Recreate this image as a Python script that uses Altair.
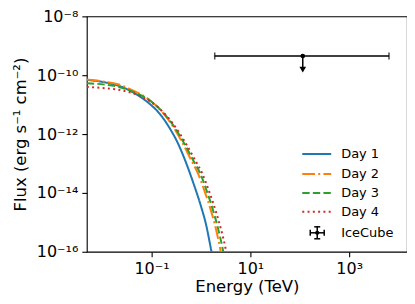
import altair as alt
import pandas as pd

# ---------------- data (log10 values off the log axes) ----------------
days = ["Day 1", "Day 2", "Day 3", "Day 4"]
colors = ["#1f77b4", "#ff7f0e", "#2ca02c", "#d62728"]
dashes = [[1, 0], [12.8, 3.2, 2, 3.2], [7.4, 3.2], [2, 3.3]]

log_energy_day1 = [-2.31, -1.95, -1.68, -1.44, -1.24, -1.04, -0.84, -0.64, -0.47, -0.30, -0.15, 0.0, 0.10, 0.206, 0.25]
log_flux_day1 = [-10.16, -10.24, -10.35, -10.52, -10.72, -10.97, -11.30, -11.78, -12.30, -12.98, -13.68, -14.45, -15.05, -15.93, -16.3]

log_energy_day2 = [-2.31, -1.95, -1.68, -1.44, -1.24, -1.04, -0.77, -0.57, -0.37, -0.20, -0.065, 0.07, 0.206, 0.30, 0.39, 0.43]
log_flux_day2 = [-10.15, -10.22, -10.31, -10.47, -10.63, -10.84, -11.28, -11.73, -12.31, -12.88, -13.32, -13.92, -14.62, -15.20, -15.90, -16.25]

log_energy_day3 = [-2.31, -1.95, -1.68, -1.44, -1.24, -1.04, -0.76, -0.55, -0.34, -0.16, -0.02, 0.115, 0.25, 0.345, 0.44, 0.48]
log_flux_day3 = [-10.27, -10.32, -10.39, -10.52, -10.66, -10.85, -11.28, -11.73, -12.31, -12.88, -13.32, -13.92, -14.62, -15.20, -15.90, -16.25]

log_energy_day4 = [-2.31, -1.95, -1.68, -1.44, -1.24, -1.04, -0.75, -0.53, -0.31, -0.12, 0.02, 0.16, 0.30, 0.40, 0.50, 0.54]
log_flux_day4 = [-10.40, -10.44, -10.49, -10.58, -10.70, -10.88, -11.28, -11.73, -12.31, -12.88, -13.32, -13.92, -14.62, -15.20, -15.90, -16.25]

icecube_energy = [115.0]
icecube_energy_lo = [1.9]
icecube_energy_hi = [6400.0]
icecube_flux = [4.5e-10]
icecube_arrow_end = [1.9e-10]
icecube_arrow_head = [1.55e-10]

x_ticks = [0.1, 10, 1000]
x_tick_labels = ["10\u207b\u00b9", "10\u00b9", "10\u00b3"]
y_ticks = [1e-16, 1e-14, 1e-12, 1e-10, 1e-8]
y_tick_labels = ["10\u207b\u00b9\u2076", "10\u207b\u00b9\u2074", "10\u207b\u00b9\u00b2", "10\u207b\u00b9\u2070", "10\u207b\u2078"]

x_domain = [0.0049, 14800]
y_domain = [1e-16, 1e-8]

# ---------------- build tables ----------------
rows = []
for d, es, fs in zip(days, [log_energy_day1, log_energy_day2, log_energy_day3, log_energy_day4],
                     [log_flux_day1, log_flux_day2, log_flux_day3, log_flux_day4]):
    for e, f in zip(es, fs):
        rows.append({"energy": 10.0 ** e, "flux": 10.0 ** f, "day": d})
curves = pd.DataFrame(rows)

ice = pd.DataFrame({
    "energy": icecube_energy, "lo": icecube_energy_lo, "hi": icecube_energy_hi,
    "flux": icecube_flux, "arrow_end": icecube_arrow_end, "arrow_head": icecube_arrow_head,
})
caps = pd.DataFrame({"energy": icecube_energy_lo + icecube_energy_hi,
                     "flux": icecube_flux * 2})


def label_expr(vals, labels):
    import math
    expr = "''"
    for v, lab in zip(vals, labels):
        k = math.log10(v)
        expr = f"abs(log(datum.value)/LN10 - ({k})) < 0.01 ? '{lab}' : ({expr})"
    return expr


FONT = "DejaVu Sans"

xs = alt.Scale(type="log", domain=x_domain, nice=False)
ys = alt.Scale(type="log", domain=y_domain, nice=False)

x_axis = alt.Axis(values=x_ticks, labelExpr=label_expr(x_ticks, x_tick_labels),
                  title="Energy (TeV)", grid=False, domain=False, titlePadding=2)
y_axis = alt.Axis(values=y_ticks, labelExpr=label_expr(y_ticks, y_tick_labels),
                  title="Flux (erg s\u207b\u00b9 cm\u207b\u00b2)", grid=False, domain=False,
                  titlePadding=8)

lines = alt.Chart(curves).mark_line(clip=True, strokeWidth=2, interpolate="monotone").encode(
    x=alt.X("energy:Q", scale=xs, axis=x_axis),
    y=alt.Y("flux:Q", scale=ys, axis=y_axis),
    color=alt.Color("day:N", scale=alt.Scale(domain=days, range=colors), legend=None),
    strokeDash=alt.StrokeDash("day:N", scale=alt.Scale(domain=days, range=dashes), legend=None),
)

ebar = alt.Chart(ice).mark_rule(color="black", strokeWidth=1.5).encode(
    x=alt.X("lo:Q", scale=xs), x2="hi:Q", y=alt.Y("flux:Q", scale=ys))
cap = alt.Chart(caps).mark_tick(color="black", orient="vertical", thickness=1.5, size=7).encode(
    x=alt.X("energy:Q", scale=xs), y=alt.Y("flux:Q", scale=ys))
shaft = alt.Chart(ice).mark_rule(color="black", strokeWidth=1.5).encode(
    x=alt.X("energy:Q", scale=xs), y=alt.Y("flux:Q", scale=ys), y2="arrow_end:Q")
head = alt.Chart(ice).mark_point(shape="triangle-down", filled=True, color="black",
                                 size=45, opacity=1).encode(
    x=alt.X("energy:Q", scale=xs), y=alt.Y("arrow_head:Q", scale=ys))
dot = alt.Chart(ice).mark_circle(color="black", size=22, opacity=1).encode(
    x=alt.X("energy:Q", scale=xs), y=alt.Y("flux:Q", scale=ys))

# ---------------- manual legend ----------------
leg_layers = []
row_y = [138, 158, 177, 196]
for d, c, dash, yy in zip(days, colors, dashes, row_y):
    one = pd.DataFrame({"label": [d]})
    leg_layers.append(alt.Chart(one).mark_rule(color=c, strokeWidth=2, strokeDash=dash).encode(
        x=alt.value(216), x2=alt.value(245), y=alt.value(yy)))
    leg_layers.append(alt.Chart(one).mark_text(align="left", baseline="middle", font=FONT,
                                               fontSize=13, color="black").encode(
        x=alt.value(255), y=alt.value(yy), text="label:N"))
ice_y = 217
one = pd.DataFrame({"label": ["IceCube"]})
leg_layers.append(alt.Chart(one).mark_rule(color="black", strokeWidth=1.5).encode(
    x=alt.value(224), x2=alt.value(238), y=alt.value(ice_y)))
leg_layers.append(alt.Chart(one).mark_rule(color="black", strokeWidth=1.5).encode(
    x=alt.value(231), y=alt.value(ice_y - 6), y2=alt.value(ice_y + 6)))
for cx in (224, 238):
    leg_layers.append(alt.Chart(one).mark_rule(color="black", strokeWidth=1.5).encode(
        x=alt.value(cx), y=alt.value(ice_y - 3), y2=alt.value(ice_y + 3)))
for cy in (ice_y - 6, ice_y + 6):
    leg_layers.append(alt.Chart(one).mark_rule(color="black", strokeWidth=1.5).encode(
        x=alt.value(228), x2=alt.value(234), y=alt.value(cy)))
leg_layers.append(alt.Chart(one).mark_circle(color="black", size=18, opacity=1).encode(
    x=alt.value(231), y=alt.value(ice_y)))
leg_layers.append(alt.Chart(one).mark_text(align="left", baseline="middle", font=FONT,
                                           fontSize=13, color="black").encode(
    x=alt.value(255), y=alt.value(ice_y), text="label:N"))

chart = alt.layer(lines, ebar, cap, shaft, head, dot, *leg_layers).properties(
    width=321, height=236,
    autosize=alt.AutoSizeParams(type="none"),
    padding={"left": 79, "top": 8, "right": 0, "bottom": 52},
    background="white",
).configure_view(
    stroke="black", strokeWidth=1.1,
).configure_axis(
    labelFont=FONT, titleFont=FONT, labelFontSize=16, titleFontSize=16.5,
    labelColor="black", titleColor="black", titleFontWeight="normal",
    tickColor="black", tickSize=5, tickWidth=1.1, labelPadding=4,
)

chart.save("out.html", embed_options={"renderer": "svg", "actions": False})
